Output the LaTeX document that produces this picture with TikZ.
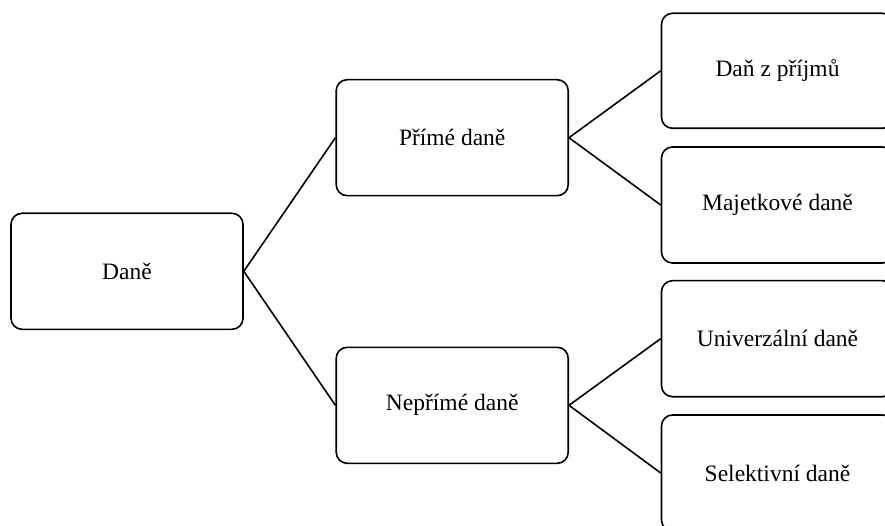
\documentclass[tikz,border=0pt]{standalone}
\usepackage{fontspec}
\setmainfont{Liberation Serif}
\begin{document}
\begin{tikzpicture}[x=1pt,y=-1pt,
  box/.style={draw=black, line width=1.6pt, rounded corners=11pt, fill=white,
    minimum width=232pt, minimum height=116pt, inner sep=0pt,
    font=\fontsize{23.5}{28}\selectfont},
  link/.style={draw=black, line width=1.6pt}]
\useasboundingbox (0,0) rectangle (885,526);
\clip (0,0) rectangle (885,526);
\node[box] (dane) at (127,271.3) {Daně};
\node[box] (prime) at (452.2,137.7) {Přímé daně};
\node[box] (neprime) at (452.2,405.3) {Nepřímé daně};
\node[box, minimum height=115pt] (r1) at (777.5,70.8) {Daň z příjmů};
\node[box] (r2) at (777.5,205) {Majetkové daně};
\node[box] (r3) at (777.5,338.7) {Univerzální daně};
\node[box] (r4) at (777.5,473) {Selektivní daně};
\draw[link] (dane.east) -- (prime.west);
\draw[link] (dane.east) -- (neprime.west);
\draw[link] (prime.east) -- (r1.west);
\draw[link] (prime.east) -- (r2.west);
\draw[link] (neprime.east) -- (r3.west);
\draw[link] (neprime.east) -- (r4.west);
\end{tikzpicture}
\end{document}
